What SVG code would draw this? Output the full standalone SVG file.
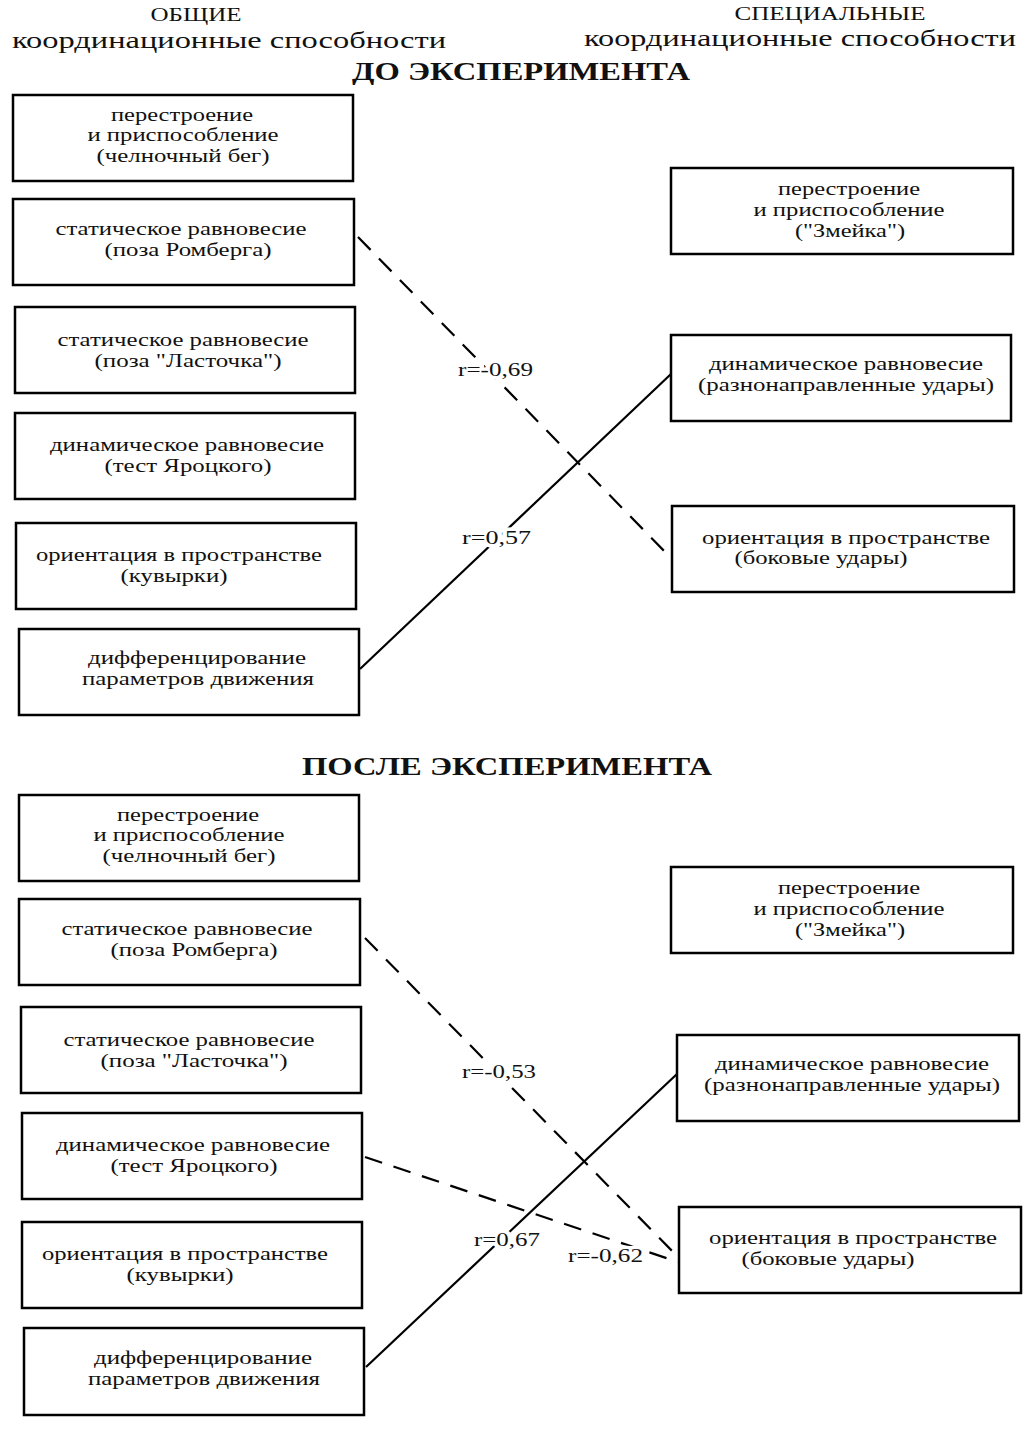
<svg xmlns="http://www.w3.org/2000/svg" width="1033" height="1436" viewBox="0 0 1033 1436">
<style>
  .box { fill: #fff; stroke: #000; stroke-width: 2.5; }
  .t { font-family: "Liberation Serif", "Times New Roman", serif; font-size: 19px; fill: #111; text-anchor: middle; }
  .h { font-family: "Liberation Serif", "Times New Roman", serif; font-size: 23px; fill: #111; text-anchor: middle; }
  .hs { font-family: "Liberation Serif", "Times New Roman", serif; font-size: 18px; fill: #111; text-anchor: middle; }
  .hb { font-family: "Liberation Serif", "Times New Roman", serif; font-size: 25px; font-weight: bold; fill: #111; text-anchor: middle; }
  .lbl { font-family: "Liberation Serif", "Times New Roman", serif; font-size: 19px; fill: #111; stroke: #fff; stroke-width: 7; paint-order: stroke; stroke-linejoin: round; }
  .solid { stroke: #000; stroke-width: 2.2; fill: none; }
  .dash { stroke: #000; stroke-width: 2.2; fill: none; stroke-dasharray: 18 12; }
</style>
<rect width="1033" height="1436" fill="#fff"/>

<g id="headers">
  <text class="hs" x="196" y="21" textLength="91" lengthAdjust="spacingAndGlyphs">ОБЩИЕ</text>
  <text class="h" x="229" y="48" textLength="434" lengthAdjust="spacingAndGlyphs">координационные способности</text>
  <text class="hs" x="830" y="20" textLength="191" lengthAdjust="spacingAndGlyphs">СПЕЦИАЛЬНЫЕ</text>
  <text class="h" x="800" y="46" textLength="432" lengthAdjust="spacingAndGlyphs">координационные способности</text>
  <text class="hb" x="521" y="80" textLength="338" lengthAdjust="spacingAndGlyphs">ДО ЭКСПЕРИМЕНТА</text>
  <text class="hb" x="507" y="775" textLength="410" lengthAdjust="spacingAndGlyphs">ПОСЛЕ ЭКСПЕРИМЕНТА</text>
</g>

<g id="connectors">
  <line class="dash" x1="358" y1="237" x2="670" y2="557"/>
  <line class="solid" x1="360" y1="669" x2="671" y2="374"/>
  <line class="dash" x1="365" y1="938" x2="678" y2="1257"/>
  <line class="dash" x1="365" y1="1157" x2="678" y2="1262"/>
  <line class="solid" x1="366" y1="1367" x2="677" y2="1074"/>
  <text class="lbl" x="458" y="376" textLength="75" lengthAdjust="spacingAndGlyphs">r=-0,69</text>
  <text class="lbl" x="462" y="544" textLength="69" lengthAdjust="spacingAndGlyphs">r=0,57</text>
  <text class="lbl" x="462" y="1078" textLength="74" lengthAdjust="spacingAndGlyphs">r=-0,53</text>
  <text class="lbl" x="474" y="1246" textLength="66" lengthAdjust="spacingAndGlyphs">r=0,67</text>
  <text class="lbl" x="568" y="1262" textLength="75" lengthAdjust="spacingAndGlyphs">r=-0,62</text>
</g>

<!-- BEFORE: left -->
<g id="b-l1">
  <rect class="box" x="13" y="95" width="340" height="86"/>
  <text class="t" x="182" y="121" textLength="142" lengthAdjust="spacingAndGlyphs">перестроение</text>
  <text class="t" x="183" y="141" textLength="191" lengthAdjust="spacingAndGlyphs">и приспособление</text>
  <text class="t" x="183" y="162" textLength="173" lengthAdjust="spacingAndGlyphs">(челночный бег)</text>
</g>
<g id="b-l2">
  <rect class="box" x="13" y="199" width="341" height="86"/>
  <text class="t" x="181" y="235" textLength="251" lengthAdjust="spacingAndGlyphs">статическое равновесие</text>
  <text class="t" x="188" y="256" textLength="167" lengthAdjust="spacingAndGlyphs">(поза Ромберга)</text>
</g>
<g id="b-l3">
  <rect class="box" x="15" y="307" width="340" height="86"/>
  <text class="t" x="183" y="346" textLength="251" lengthAdjust="spacingAndGlyphs">статическое равновесие</text>
  <text class="t" x="188" y="367" textLength="187" lengthAdjust="spacingAndGlyphs">(поза "Ласточка")</text>
</g>
<g id="b-l4">
  <rect class="box" x="15" y="413" width="340" height="86"/>
  <text class="t" x="187" y="451" textLength="274" lengthAdjust="spacingAndGlyphs">динамическое равновесие</text>
  <text class="t" x="188" y="472" textLength="167" lengthAdjust="spacingAndGlyphs">(тест Яроцкого)</text>
</g>
<g id="b-l5">
  <rect class="box" x="16" y="523" width="340" height="86"/>
  <text class="t" x="179" y="561" textLength="286" lengthAdjust="spacingAndGlyphs">ориентация в пространстве</text>
  <text class="t" x="174" y="582" textLength="107" lengthAdjust="spacingAndGlyphs">(кувырки)</text>
</g>
<g id="b-l6">
  <rect class="box" x="19" y="629" width="340" height="86"/>
  <text class="t" x="197" y="664" textLength="218" lengthAdjust="spacingAndGlyphs">дифференцирование</text>
  <text class="t" x="198" y="685" textLength="232" lengthAdjust="spacingAndGlyphs">параметров движения</text>
</g>

<!-- BEFORE: right -->
<g id="b-r1">
  <rect class="box" x="671" y="168" width="342" height="86"/>
  <text class="t" x="849" y="195" textLength="142" lengthAdjust="spacingAndGlyphs">перестроение</text>
  <text class="t" x="849" y="216" textLength="191" lengthAdjust="spacingAndGlyphs">и приспособление</text>
  <text class="t" x="850" y="237" textLength="110" lengthAdjust="spacingAndGlyphs">("Змейка")</text>
</g>
<g id="b-r2">
  <rect class="box" x="671" y="335" width="340" height="86"/>
  <text class="t" x="846" y="370" textLength="274" lengthAdjust="spacingAndGlyphs">динамическое равновесие</text>
  <text class="t" x="846" y="391" textLength="296" lengthAdjust="spacingAndGlyphs">(разнонаправленные удары)</text>
</g>
<g id="b-r3">
  <rect class="box" x="672" y="506" width="342" height="86"/>
  <text class="t" x="846" y="544" textLength="288" lengthAdjust="spacingAndGlyphs">ориентация в пространстве</text>
  <text class="t" x="821" y="564" textLength="173" lengthAdjust="spacingAndGlyphs">(боковые удары)</text>
</g>

<!-- AFTER: left -->
<g id="a-l1">
  <rect class="box" x="19" y="795" width="340" height="86"/>
  <text class="t" x="188" y="821" textLength="142" lengthAdjust="spacingAndGlyphs">перестроение</text>
  <text class="t" x="189" y="841" textLength="191" lengthAdjust="spacingAndGlyphs">и приспособление</text>
  <text class="t" x="189" y="862" textLength="173" lengthAdjust="spacingAndGlyphs">(челночный бег)</text>
</g>
<g id="a-l2">
  <rect class="box" x="19" y="899" width="341" height="86"/>
  <text class="t" x="187" y="935" textLength="251" lengthAdjust="spacingAndGlyphs">статическое равновесие</text>
  <text class="t" x="194" y="956" textLength="167" lengthAdjust="spacingAndGlyphs">(поза Ромберга)</text>
</g>
<g id="a-l3">
  <rect class="box" x="21" y="1007" width="340" height="86"/>
  <text class="t" x="189" y="1046" textLength="251" lengthAdjust="spacingAndGlyphs">статическое равновесие</text>
  <text class="t" x="194" y="1067" textLength="187" lengthAdjust="spacingAndGlyphs">(поза "Ласточка")</text>
</g>
<g id="a-l4">
  <rect class="box" x="22" y="1113" width="340" height="86"/>
  <text class="t" x="193" y="1151" textLength="274" lengthAdjust="spacingAndGlyphs">динамическое равновесие</text>
  <text class="t" x="194" y="1172" textLength="167" lengthAdjust="spacingAndGlyphs">(тест Яроцкого)</text>
</g>
<g id="a-l5">
  <rect class="box" x="22" y="1222" width="340" height="86"/>
  <text class="t" x="185" y="1260" textLength="286" lengthAdjust="spacingAndGlyphs">ориентация в пространстве</text>
  <text class="t" x="180" y="1281" textLength="107" lengthAdjust="spacingAndGlyphs">(кувырки)</text>
</g>
<g id="a-l6">
  <rect class="box" x="24" y="1328" width="340" height="87"/>
  <text class="t" x="203" y="1364" textLength="218" lengthAdjust="spacingAndGlyphs">дифференцирование</text>
  <text class="t" x="204" y="1385" textLength="232" lengthAdjust="spacingAndGlyphs">параметров движения</text>
</g>

<!-- AFTER: right -->
<g id="a-r1">
  <rect class="box" x="671" y="867" width="342" height="86"/>
  <text class="t" x="849" y="894" textLength="142" lengthAdjust="spacingAndGlyphs">перестроение</text>
  <text class="t" x="849" y="915" textLength="191" lengthAdjust="spacingAndGlyphs">и приспособление</text>
  <text class="t" x="850" y="936" textLength="110" lengthAdjust="spacingAndGlyphs">("Змейка")</text>
</g>
<g id="a-r2">
  <rect class="box" x="677" y="1035" width="342" height="86"/>
  <text class="t" x="852" y="1070" textLength="274" lengthAdjust="spacingAndGlyphs">динамическое равновесие</text>
  <text class="t" x="852" y="1091" textLength="296" lengthAdjust="spacingAndGlyphs">(разнонаправленные удары)</text>
</g>
<g id="a-r3">
  <rect class="box" x="679" y="1207" width="342" height="86"/>
  <text class="t" x="853" y="1244" textLength="288" lengthAdjust="spacingAndGlyphs">ориентация в пространстве</text>
  <text class="t" x="828" y="1265" textLength="173" lengthAdjust="spacingAndGlyphs">(боковые удары)</text>
</g>
</svg>
